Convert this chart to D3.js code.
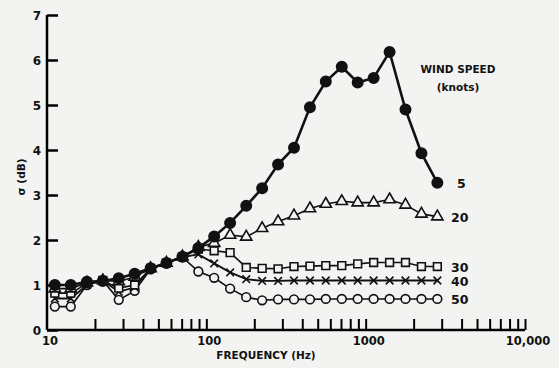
<!DOCTYPE html>
<html>
<head>
<meta charset="utf-8">
<script src="https://cdn.jsdelivr.net/npm/d3@7"></script>
<style>
  body { margin: 0; background: #f3f3f1; }
  svg { display: block; }
  text { font-family: "DejaVu Sans", sans-serif; font-weight: bold; fill: #111; }
</style>
</head>
<body>
<svg id="chart" width="559" height="368"></svg>
<script>
// 1/3-octave band centres (Hz)
const freqs = [11.2, 14.1, 17.8, 22.4, 28.2, 35.5, 44.7, 56.2, 70.8, 89.1, 112, 141, 178,
               224, 282, 355, 447, 562, 708, 891, 1122, 1413, 1778, 2239, 2818];

// sigma (dB) per wind speed
const knots5  = [1.0, 1.0, 1.07, 1.09, 1.15, 1.25, 1.37, 1.49, 1.63, 1.82, 2.08, 2.38, 2.76,
                 3.15, 3.68, 4.05, 4.95, 5.52, 5.85, 5.5, 5.6, 6.18, 4.9, 3.93, 3.27];
const knots20 = [0.92, 0.92, 1.05, 1.1, 1.08, 1.18, 1.37, 1.49, 1.63, 1.84, 1.93, 2.11, 2.07,
                 2.26, 2.41, 2.54, 2.7, 2.8, 2.86, 2.83, 2.83, 2.9, 2.78, 2.58, 2.52];
const knots30 = [0.82, 0.82, 1.03, 1.1, 0.93, 1.0, 1.37, 1.49, 1.63, 1.8, 1.76, 1.72, 1.39,
                 1.37, 1.36, 1.41, 1.42, 1.43, 1.43, 1.47, 1.5, 1.5, 1.5, 1.41, 1.41];
const knots40 = [0.7, 0.7, 1.0, 1.1, 0.85, 0.95, 1.36, 1.49, 1.62, 1.68, 1.48, 1.28, 1.13,
                 1.09, 1.09, 1.1, 1.1, 1.1, 1.1, 1.1, 1.1, 1.1, 1.1, 1.1, 1.1];
const knots50 = [0.52, 0.52, 1.0, 1.1, 0.67, 0.87, 1.35, 1.49, 1.62, 1.3, 1.16, 0.92, 0.73,
                 0.66, 0.68, 0.68, 0.68, 0.69, 0.69, 0.69, 0.69, 0.69, 0.69, 0.69, 0.69];

const yTicks = [0, 1, 2, 3, 4, 5, 6, 7];
const xLabels = [[10, "10"], [100, "100"], [1000, "1000"], [10000, "10,000"]];

const bg = "#f3f3f1";
const svg = d3.select("#chart");

const x = d3.scaleLog().domain([10, 10000]).range([47, 525]);
const y = d3.scaleLinear().domain([0, 7]).range([330, 15]);

// axes
const yAxis = d3.axisRight(y).tickValues(yTicks).tickSize(11).tickFormat("");
svg.append("g").attr("transform", "translate(47,0)").call(yAxis)
  .call(g => g.select(".domain").attr("stroke-width", 2.5).attr("d", "M0,15V330"))
  .call(g => g.selectAll(".tick line").attr("stroke-width", 2.5));

const minor = x.ticks().filter(d => d > 10);
const xAxis = d3.axisTop(x).tickValues(minor).tickSize(11).tickFormat("");
svg.append("g").attr("transform", "translate(0,330)").call(xAxis)
  .call(g => g.select(".domain").attr("stroke-width", 2.5).attr("d", "M47,0H525"))
  .call(g => g.selectAll(".tick line").attr("stroke-width", 2));

svg.selectAll(".ylab").data(yTicks).enter().append("text")
  .attr("x", 41).attr("y", d => y(d) + 4.5)
  .attr("text-anchor", "end").attr("font-size", 12).text(d => d);

svg.selectAll(".xlab").data(xLabels).enter().append("text")
  .attr("x", d => x(d[0]) + (d[0] === 10 ? 3 : 3)).attr("y", 345)
  .attr("text-anchor", "middle").attr("font-size", 11.5).text(d => d[1]);

svg.append("text").attr("x", 266).attr("y", 359)
  .attr("text-anchor", "middle").attr("font-size", 10.5).text("FREQUENCY (Hz)");

svg.append("text").attr("transform", "translate(25,177) rotate(-90)")
  .attr("text-anchor", "middle").attr("font-size", 10.5).text("σ (dB)");

svg.append("text").attr("x", 458).attr("y", 73)
  .attr("text-anchor", "middle").attr("font-size", 10.5).text("WIND SPEED");
svg.append("text").attr("x", 458).attr("y", 91)
  .attr("text-anchor", "middle").attr("font-size", 10.5).text("(knots)");

// series
const series = [
  { name: "50", values: knots50, sym: d3.symbolCircle, size: 60, fill: bg, lw: 1.6 },
  { name: "40", values: knots40, sym: d3.symbolTimes, size: 40, fill: "none", lw: 1.8 },
  { name: "30", values: knots30, sym: d3.symbolSquare, size: 60, fill: bg, lw: 1.6 },
  { name: "20", values: knots20, sym: d3.symbolTriangle, size: 55, fill: bg, lw: 1.6 },
  { name: "5", values: knots5, sym: d3.symbolCircle, size: 85, fill: "#111", lw: 2.6 }
];

const line = d3.line().x((d, i) => x(freqs[i])).y(d => y(d));

series.forEach(s => {
  const g = svg.append("g");
  g.append("path").datum(s.values).attr("d", line)
    .attr("fill", "none").attr("stroke", "#111").attr("stroke-width", s.lw);
  g.selectAll("path.m").data(s.values).enter().append("path").attr("class", "m")
    .attr("transform", (d, i) => `translate(${x(freqs[i])},${y(d)})`)
    .attr("d", d3.symbol().type(s.sym).size(s.size))
    .attr("fill", s.fill).attr("stroke", "#111").attr("stroke-width", 1.6);
  const last = s.values[s.values.length - 1];
  g.append("text").attr("x", s.name === "5" ? 457 : 451).attr("y", y(last) + 5)
    .attr("font-size", 12.5).text(s.name);
});
</script>
</body>
</html>
